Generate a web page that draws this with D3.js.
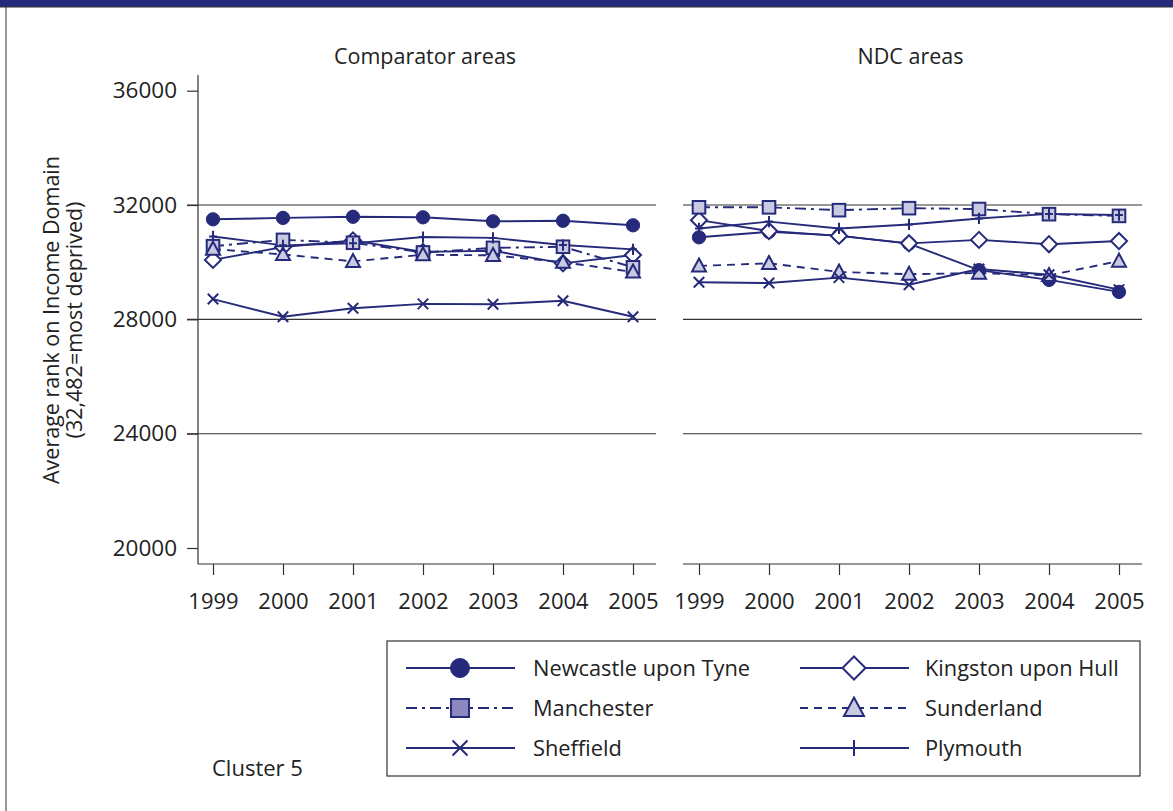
<!DOCTYPE html>
<html>
<head>
<meta charset="utf-8">
<script src="https://cdn.jsdelivr.net/npm/d3@7"></script>
<style>
  html, body { margin: 0; padding: 0; background: #fff; }
  svg { display: block; }
  text { font-family: "Open Sans", "Noto Sans", sans-serif; fill: #222; }
</style>
</head>
<body>
<svg id="chart" width="1173" height="811"></svg>
<script>
// ---------- DATA ----------
const years = [1999, 2000, 2001, 2002, 2003, 2004, 2005];
const panels = ["Comparator areas", "NDC areas"];
const seriesNames = ["Newcastle upon Tyne", "Kingston upon Hull", "Manchester", "Sunderland", "Sheffield", "Plymouth"];
const yTicks = [20000, 24000, 28000, 32000, 36000];

// Comparator areas
const compNewcastle  = [31500, 31550, 31590, 31570, 31430, 31450, 31290];
const compHull       = [30080, 30530, 30760, 30360, 30400, 29960, 30250];
const compManchester = [30560, 30780, 30680, 30340, 30500, 30540, 29820];
const compSunderland = [30460, 30270, 30030, 30260, 30240, 30000, 29660];
const compSheffield  = [28710, 28090, 28390, 28540, 28530, 28650, 28090];
const compPlymouth   = [30900, 30590, 30660, 30880, 30850, 30600, 30450];

// NDC areas
const ndcNewcastle  = [30870, 31060, 30930, 30650, 29720, 29380, 28960];
const ndcHull       = [31470, 31090, 30920, 30660, 30780, 30630, 30740];
const ndcManchester = [31920, 31920, 31820, 31890, 31860, 31680, 31620];
const ndcSunderland = [29870, 29960, 29660, 29580, 29620, 29540, 30040];
const ndcSheffield  = [29300, 29270, 29460, 29210, 29760, 29560, 29040];
const ndcPlymouth   = [31180, 31420, 31180, 31320, 31530, 31690, 31650];

const panelData = [
  [compNewcastle, compHull, compManchester, compSunderland, compSheffield, compPlymouth],
  [ndcNewcastle, ndcHull, ndcManchester, ndcSunderland, ndcSheffield, ndcPlymouth]
];

// ---------- STYLE ----------
const NAVY = "#252a7a";
const LIGHT = "#c9c9e1";
const styles = {
  "Newcastle upon Tyne": { marker: "circle", dash: null },
  "Kingston upon Hull":  { marker: "diamond", dash: null },
  "Manchester":          { marker: "square", dash: "11,5,3,5" },
  "Sunderland":          { marker: "triangle", dash: "8,6" },
  "Sheffield":           { marker: "x", dash: null },
  "Plymouth":            { marker: "plus", dash: null }
};

const svg = d3.select("#chart");

// frame
svg.append("rect").attr("x", 0).attr("y", 0).attr("width", 1173).attr("height", 7).attr("fill", NAVY);
svg.append("line").attr("x1", 6).attr("x2", 6).attr("y1", 7).attr("y2", 811).attr("stroke", "#555").attr("stroke-width", 1.2);
svg.append("line").attr("x1", 0).attr("x2", 1173).attr("y1", 7).attr("y2", 7).attr("stroke", "#333").attr("stroke-width", 1);

const y = d3.scaleLinear().domain([20000, 36000]).range([548, 90.7]);
const yAxisTop = 75, yAxisBottom = 564;

const panelX = [
  { range: [213, 633], left: 198, right: 656 },
  { range: [699, 1119], left: 683, right: 1142 }
];

function drawMarker(g, type, cx, cy, s, legendFill) {
  const sw = 2;
  if (type === "circle") {
    g.append("circle").attr("cx", cx).attr("cy", cy).attr("r", s * 0.95)
      .attr("fill", NAVY).attr("stroke", NAVY).attr("stroke-width", 1);
  } else if (type === "diamond") {
    const r = s * 1.15;
    g.append("path").attr("d", `M${cx},${cy - r}L${cx + r},${cy}L${cx},${cy + r}L${cx - r},${cy}Z`)
      .attr("fill", "#fff").attr("stroke", NAVY).attr("stroke-width", sw);
  } else if (type === "square") {
    const r = s * 0.9;
    g.append("rect").attr("x", cx - r).attr("y", cy - r).attr("width", 2 * r).attr("height", 2 * r)
      .attr("fill", legendFill || LIGHT).attr("stroke", NAVY).attr("stroke-width", sw);
  } else if (type === "triangle") {
    const r = s * 1.0;
    g.append("path").attr("d", `M${cx},${cy - r * 1.05}L${cx + r},${cy + r * 0.8}L${cx - r},${cy + r * 0.8}Z`)
      .attr("fill", LIGHT).attr("stroke", NAVY).attr("stroke-width", sw);
  } else if (type === "x") {
    const r = s * 0.75;
    g.append("path").attr("d", `M${cx - r},${cy - r}L${cx + r},${cy + r}M${cx - r},${cy + r}L${cx + r},${cy - r}`)
      .attr("fill", "none").attr("stroke", NAVY).attr("stroke-width", sw);
  } else if (type === "plus") {
    const r = s * 0.8;
    g.append("path").attr("d", `M${cx},${cy - r}L${cx},${cy + r}M${cx - r * 0.7},${cy}L${cx + r * 0.7},${cy}`)
      .attr("fill", "none").attr("stroke", NAVY).attr("stroke-width", sw);
  }
}

panels.forEach((title, pi) => {
  const px = panelX[pi];
  const x = d3.scaleLinear().domain([1999, 2005]).range(px.range);
  const g = svg.append("g");

  // gridlines at ticks (except bottom)
  [24000, 28000, 32000].forEach(t => {
    g.append("line").attr("x1", pi === 0 ? 187 : px.left).attr("x2", px.right)
      .attr("y1", y(t)).attr("y2", y(t)).attr("stroke", "#333").attr("stroke-width", 1.1);
  });

  // title
  g.append("text").attr("x", (px.left + px.right) / 2 - 2).attr("y", 64)
    .attr("text-anchor", "middle").attr("font-size", 21.5).text(title);

  // x axis
  const xAxis = d3.axisBottom(x).tickValues(years).tickFormat(d3.format("d")).tickSize(11).tickPadding(18);
  const xg = g.append("g").attr("transform", `translate(0,${yAxisBottom})`).call(xAxis);
  xg.select(".domain").attr("d", `M${px.left},0H${px.right}`).attr("stroke", "#333").attr("stroke-width", 1.2);
  xg.selectAll(".tick line").attr("stroke", "#333").attr("stroke-width", 1.2);
  xg.selectAll(".tick text").attr("font-size", 22).attr("font-family", "Open Sans, sans-serif").attr("fill", "#222");

  // y axis on left panel
  if (pi === 0) {
    const yAxis = d3.axisLeft(y).tickValues(yTicks).tickFormat(d3.format("d")).tickSize(11).tickPadding(10);
    const yg = g.append("g").attr("transform", `translate(${px.left},0)`).call(yAxis);
    yg.select(".domain").attr("d", `M0,${yAxisTop}V${yAxisBottom}`).attr("stroke", "#333").attr("stroke-width", 1.2);
    yg.selectAll(".tick line").attr("stroke", "#333").attr("stroke-width", 1.2);
    yg.selectAll(".tick text").attr("font-size", 22.5).attr("font-family", "Open Sans, sans-serif").attr("fill", "#222");
  }

  // series
  seriesNames.forEach((name, si) => {
    const vals = panelData[pi][si];
    const st = styles[name];
    const line = d3.line().x((d, i) => x(years[i])).y(d => y(d));
    g.append("path").attr("d", line(vals)).attr("fill", "none")
      .attr("stroke", NAVY).attr("stroke-width", 1.9)
      .attr("stroke-dasharray", st.dash);
  });
  seriesNames.forEach((name, si) => {
    const vals = panelData[pi][si];
    const st = styles[name];
    vals.forEach((v, i) => drawMarker(g, st.marker, x(years[i]), y(v), 7));
  });
});

// y label
svg.append("text").attr("text-anchor", "middle").attr("font-size", 21.5)
  .attr("transform", "translate(59,320) rotate(-90)").text("Average rank on Income Domain");
svg.append("text").attr("text-anchor", "middle").attr("font-size", 21.5)
  .attr("transform", "translate(82,320) rotate(-90)").text("(32,482=most deprived)");

// legend
const lg = svg.append("g");
lg.append("rect").attr("x", 387).attr("y", 641).attr("width", 753).attr("height", 135)
  .attr("fill", "#fff").attr("stroke", "#333").attr("stroke-width", 1.2);
const legendOrder = [
  ["Newcastle upon Tyne", 0, 0], ["Kingston upon Hull", 1, 0],
  ["Manchester", 0, 1], ["Sunderland", 1, 1],
  ["Sheffield", 0, 2], ["Plymouth", 1, 2]
];
legendOrder.forEach(([name, col, row]) => {
  const st = styles[name];
  const x0 = col === 0 ? 406 : 800;
  const cy = 668 + row * 40;
  lg.append("line").attr("x1", x0).attr("x2", x0 + 109).attr("y1", cy).attr("y2", cy)
    .attr("stroke", NAVY).attr("stroke-width", 2).attr("stroke-dasharray", st.dash);
  drawMarker(lg, st.marker, x0 + 54, cy, 10, name === "Manchester" ? "#8c87bf" : null);
  lg.append("text").attr("x", col === 0 ? 533 : 925).attr("y", cy + 8).attr("font-size", 21.8).text(name);
});

svg.append("text").attr("x", 212).attr("y", 776).attr("font-size", 22).text("Cluster 5");
</script>
</body>
</html>
